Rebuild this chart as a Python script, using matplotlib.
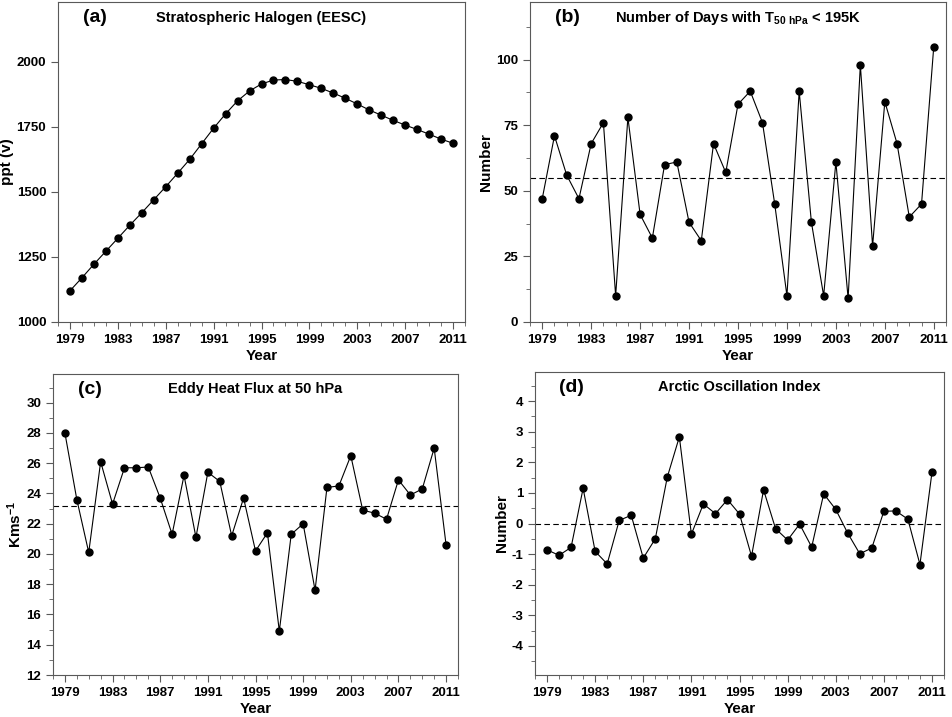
import matplotlib
matplotlib.use("Agg")
import matplotlib.pyplot as plt
import numpy as np
from matplotlib.ticker import MultipleLocator

plt.rcParams["font.family"] = ["Liberation Sans", "DejaVu Sans"]
plt.rcParams["font.weight"] = "bold"
plt.rcParams["axes.unicode_minus"] = False
plt.rcParams["mathtext.fontset"] = "custom"
plt.rcParams["mathtext.bf"] = "Liberation Sans:bold"
plt.rcParams["mathtext.rm"] = "Liberation Sans:bold"
plt.rcParams["mathtext.default"] = "bf"

years = np.arange(1979, 2012)

eesc = [1120, 1170, 1222, 1272, 1322, 1372, 1420, 1470, 1520, 1572, 1625, 1685,
        1745, 1800, 1850, 1888, 1915, 1930, 1932, 1925, 1912, 1898, 1880, 1860,
        1838, 1815, 1795, 1775, 1757, 1740, 1722, 1703, 1687]
cold_days = [47, 71, 56, 47, 68, 76, 10, 78, 41, 32, 60, 61, 38, 31, 68, 57, 83,
             88, 76, 45, 10, 88, 38, 10, 61, 9, 98, 29, 84, 68, 40, 45, 105]
heat_flux = [28.0, 23.6, 20.1, 26.1, 23.3, 25.7, 25.7, 25.75, 23.7, 21.3, 25.2,
             21.1, 25.4, 24.8, 21.2, 23.7, 20.2, 21.4, 14.9, 21.3, 22.0, 17.6,
             24.4, 24.5, 26.5, 22.9, 22.7, 22.3, 24.9, 23.9, 24.3, 27.0, 20.6]
ao_index = [-0.86, -1.04, -0.78, 1.15, -0.91, -1.32, 0.10, 0.27, -1.13, -0.50,
            1.52, 2.83, -0.35, 0.64, 0.32, 0.78, 0.31, -1.07, 1.10, -0.17, -0.54,
            -0.02, -0.77, 0.97, 0.46, -0.32, -0.99, -0.80, 0.40, 0.41, 0.14,
            -1.34, 1.67]

xticks = list(range(1979, 2012, 4))

fig = plt.figure(figsize=(9.53, 7.17), dpi=100)
W, H = 953, 717
panels = [
    # (left, top, right, bottom) in pixels
    dict(box=(58, 2, 465, 322), data=eesc, ylim=(1000, 2230), major=250, minor=None,
         ylabel="ppt (v)", title="Stratospheric Halogen (EESC)", tag="(a)", mean=None),
    dict(box=(530, 2, 946, 322), data=cold_days, ylim=(0, 122), major=25, minor=12.5,
         ylabel="Number", title=r"Number of Days with T$_{50\ hPa}$ < 195K",
         tag="(b)", mean=55),
    dict(box=(53, 374, 458, 675), data=heat_flux, ylim=(12, 31.9), major=2, minor=1,
         ylabel=r"Kms$^{-1}$", title="Eddy Heat Flux at 50 hPa", tag="(c)", mean=23.2),
    dict(box=(535, 372, 944, 675), data=ao_index, ylim=(-4.95, 4.95), major=1, minor=0.5,
         ylabel="Number", title="Arctic Oscillation Index", tag="(d)", mean=0.0),
]

for p in panels:
    l, t, r, b = p["box"]
    ax = fig.add_axes([l / W, 1 - b / H, (r - l) / W, (b - t) / H])
    ax.plot(years, p["data"], color="black", linewidth=0.8, marker="o", markersize=5)
    if p["mean"] is not None:
        ax.axhline(p["mean"], color="black", linestyle="--", linewidth=0.8, dashes=(5, 3))
    ax.set_xlim(1978, 2012)
    ax.set_ylim(*p["ylim"])
    ax.set_xticks(xticks)
    ax.xaxis.set_minor_locator(MultipleLocator(1))
    ax.yaxis.set_major_locator(MultipleLocator(p["major"]))
    if p["minor"]:
        ax.yaxis.set_minor_locator(MultipleLocator(p["minor"]))
    ax.tick_params(axis="both", which="both", direction="out", color="0.35", labelsize=9.5)
    ax.tick_params(which="major", length=5)
    ax.tick_params(which="minor", length=3)
    for s in ax.spines.values():
        s.set_color("0.35")
    ax.set_xlabel("Year", fontsize=11, fontweight="bold", labelpad=2)
    ax.set_ylabel(p["ylabel"], fontsize=11, fontweight="bold", labelpad=2)
    ax.text(0.5, 0.95, p["title"], transform=ax.transAxes, ha="center", va="center",
            fontsize=10.5, fontweight="bold")
    ax.text(0.09, 0.95, p["tag"], transform=ax.transAxes, ha="center", va="center",
            fontsize=14, fontweight="bold")

fig.savefig("out.png", dpi=100)
